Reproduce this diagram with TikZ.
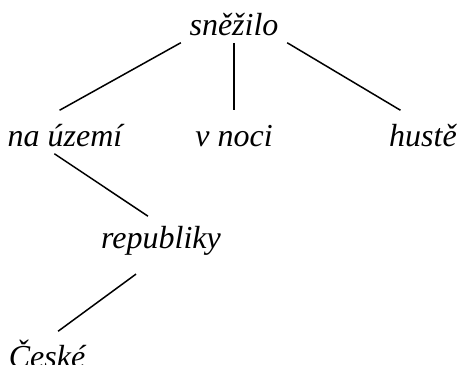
\documentclass[tikz,border=0pt]{standalone}
\usepackage{fontspec}
\setmainfont{Liberation Serif}

\begin{document}
\begin{tikzpicture}[x=1bp, y=-1bp, line width=1.5bp,
  word/.style={font=\fontsize{32bp}{38bp}\selectfont\itshape, anchor=base,
               inner xsep=8bp, inner ysep=5bp, text height=30bp, text depth=2bp}]

\useasboundingbox (0,0) rectangle (461,364);

\node[word](snezilo) at (234,35) {sněžilo};
\node[word](uzemi) at (65,146) {na území};
\node[word](noci) at (234,146) {v noci};
\node[word](huste) at (423,146) {hustě};
\node[word](republiky) at (161,248) {republiky};
\node[word](ceske) at (47,367) {České};

\draw (snezilo.south west) -- (uzemi.104);
\draw (snezilo.south) -- (noci.north);
\draw (snezilo.south east) -- (huste.136);
\draw[shorten >=-7bp] (uzemi.244) -- (republiky.131);
\draw[shorten <=31bp] (republiky.south) -- (ceske.63);

\end{tikzpicture}
\end{document}
